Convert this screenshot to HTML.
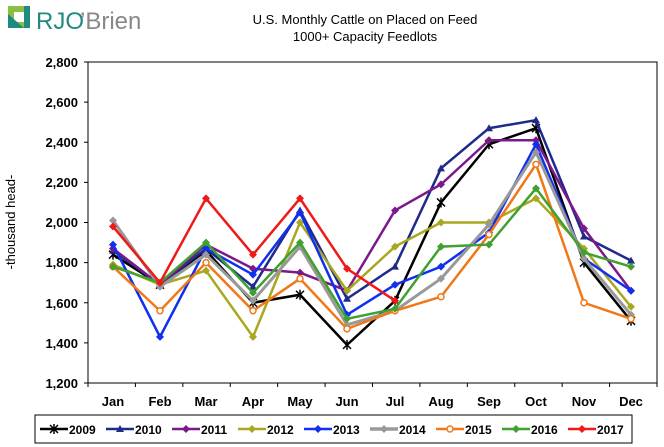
<!DOCTYPE html>
<html><head><meta charset="utf-8"><style>
body{margin:0;background:#fff;}
svg{display:block;font-family:"Liberation Sans",Arial,sans-serif;}
</style></head><body>
<svg id="s" width="664" height="447" viewBox="0 0 664 447">
<rect width="664" height="447" fill="#fff"/>
<rect x="8" y="6" width="22" height="22" fill="#8bbf3f"/>
<rect x="14" y="12" width="10" height="10" fill="#fff"/>
<polygon points="8,28 8,14 24,28" fill="#1f8a80"/>
<rect x="24" y="6" width="6" height="22" fill="#1f8a80"/>
<text x="36" y="29" font-size="24" fill="#1f8a80" font-family="Liberation Sans Narrow,Liberation Sans,sans-serif">RJO</text>
<text x="80" y="29" font-size="24" fill="#888" font-family="Liberation Sans Narrow,Liberation Sans,sans-serif">’Brien</text>
<text x="365" y="24" font-size="13" text-anchor="middle">U.S. Monthly Cattle on Placed on Feed</text>
<text x="365" y="41" font-size="13" text-anchor="middle">1000+ Capacity Feedlots</text>
<g id="axes"></g>
<text transform="translate(15,222) rotate(-90)" font-size="13" text-anchor="middle">-thousand head-</text>
<g id="lines"></g>
<rect x="35" y="415" width="597" height="28" fill="#fff" stroke="#000"/>
<g id="legl"></g>
<g id="leg" font-size="12" font-weight="bold">
<text x="69" y="434">2009</text><text x="135" y="434">2010</text><text x="201" y="434">2011</text>
<text x="267" y="434">2012</text><text x="333" y="434">2013</text><text x="399" y="434">2014</text>
<text x="465" y="434">2015</text><text x="531" y="434">2016</text><text x="597" y="434">2017</text>
</g>
<g font-size="13" font-weight="bold" text-anchor="end">
<text x="78" y="67">2,800</text><text x="78" y="107">2,600</text><text x="78" y="147">2,400</text>
<text x="78" y="187">2,200</text><text x="78" y="227">2,000</text><text x="78" y="267">1,800</text>
<text x="78" y="308">1,600</text><text x="78" y="348">1,400</text><text x="78" y="388">1,200</text>
</g>
<g font-size="13" font-weight="bold" text-anchor="middle">
<text x="113" y="406">Jan</text><text x="160" y="406">Feb</text><text x="206" y="406">Mar</text>
<text x="253" y="406">Apr</text><text x="300" y="406">May</text><text x="347" y="406">Jun</text>
<text x="395" y="406">Jul</text><text x="441" y="406">Aug</text><text x="489" y="406">Sep</text>
<text x="536" y="406">Oct</text><text x="584" y="406">Nov</text><text x="631" y="406">Dec</text>
</g>
</svg>
<script>
var NS="http://www.w3.org/2000/svg";
function el(t,a,p){var e=document.createElementNS(NS,t);for(var k in a)e.setAttribute(k,a[k]);p.appendChild(e);return e;}
var ax=document.getElementById('axes'),L=document.getElementById('lines'),LG=document.getElementById('legl');
var X0=88,X1=657,Y0=62,Y1=383;
function Y(v){return Y1-(v-1200)*(Y1-Y0)/1600;}
el('rect',{x:X0,y:Y0,width:X1-X0,height:Y1-Y0,fill:'none',stroke:'#000','stroke-width':1},ax);
for(var v=1200;v<=2800;v+=200){el('line',{x1:X0-4,x2:X0,y1:Y(v),y2:Y(v),stroke:'#000'},ax);}
for(var i=0;i<=12;i++){var x=X0+i*(X1-X0)/12;el('line',{x1:x,x2:x,y1:Y1,y2:Y1+4,stroke:'#000'},ax);}
var xs=[113,160,206,253,300,347,395,441,489,536,584,631];
var S=[
['#000',[1840,1690,1860,1600,1640,1390,1610,2100,2390,2470,1800,1510],'x'],
['#1f2a8a',[1860,1690,1870,1680,2060,1620,1780,2270,2470,2510,1930,1810],'t'],
['#7a1a8a',[1870,1690,1890,1770,1750,1660,2060,2190,2410,2410,1970,1660],'d'],
['#a8a820',[1790,1690,1760,1430,2000,1660,1880,2000,2000,2120,1870,1580],'d'],
['#1030f0',[1890,1430,1870,1740,2050,1540,1690,1780,1950,2390,1820,1660],'d'],
['#999',[2010,1680,1840,1610,1880,1490,1560,1720,1990,2350,1820,1540],'d'],
['#f07818',[1780,1560,1800,1560,1720,1470,1560,1630,1940,2290,1600,1520],'o'],
['#40a030',[1780,1700,1900,1650,1900,1520,1570,1880,1890,2170,1850,1780],'d'],
['#f01818',[1980,1700,2120,1840,2120,1770,1610],'d']];
function mark(c,m,x,y,g){
 if(m=='x'){el('path',{d:'M'+(x-4)+' '+(y-4)+'L'+(x+4)+' '+(y+4)+'M'+(x-4)+' '+(y+4)+'L'+(x+4)+' '+(y-4)+'M'+x+' '+(y-5)+'V'+(y+5),stroke:c,'stroke-width':1.5},g);}
 else if(m=='t'){el('polygon',{points:x+','+(y-4)+' '+(x+4)+','+(y+3)+' '+(x-4)+','+(y+3),fill:c},g);}
 else if(m=='o'){el('circle',{cx:x,cy:y,r:3,fill:'#fff',stroke:c,'stroke-width':1.5},g);}
 else el('polygon',{points:x+','+(y-4)+' '+(x+4)+','+y+' '+x+','+(y+4)+' '+(x-4)+','+y,fill:c},g);
}
S.forEach(function(s,k){
 var d=s[1].map(function(v,i){return (i?'L':'M')+xs[i]+' '+Y(v);}).join('');
 el('path',{d:d,fill:'none',stroke:s[0],'stroke-width':k==5?3:2.5},L);
 s[1].forEach(function(v,i){mark(s[0],s[2],xs[i],Y(v),L);});
 var lx=40+k*66;
 el('line',{x1:lx,x2:lx+28,y1:429,y2:429,stroke:s[0],'stroke-width':k==5?3.5:2.5},LG);
 mark(s[0],s[2],lx+14,429,LG);
});
</script>
</body></html>
